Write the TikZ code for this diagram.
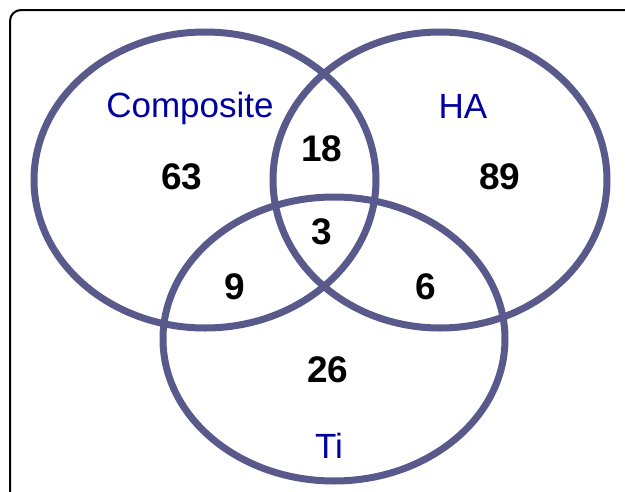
\documentclass[tikz,border=0pt]{standalone}
\usepackage{fontspec}
\setmainfont{Liberation Sans}
\usetikzlibrary{shapes.geometric}

\definecolor{vennring}{RGB}{89,89,140}
\definecolor{setblue}{RGB}{0,0,160}

\begin{document}
\begin{tikzpicture}[x=1pt,y=1pt,
    ring/.style={draw=vennring,line width=7pt,ellipse,inner sep=0pt},
    setname/.style={text=setblue,anchor=base,font=\fontsize{35}{40}\selectfont},
    count/.style={font=\fontsize{37}{42}\selectfont\bfseries,inner sep=0pt}]
  \useasboundingbox (0,0) rectangle (625,-491);
  \clip (0,0) rectangle (625,-491);
  % frame
  \draw[line width=2pt,rounded corners=11pt] (10,-10) rectangle (660,-520);
  % the three sets
  \node[ring,minimum width=342pt,minimum height=296pt] (comp) at (205,-180) {};
  \node[ring,minimum width=334pt,minimum height=296pt] (ha) at (440,-180) {};
  \node[ring,minimum width=342pt,minimum height=284pt] (ti) at (334,-339) {};
  \node[setname] (compname) at (190,-117) {Composite};
  \node[setname] (haname) at (463,-118) {HA};
  \node[setname] (tiname) at (329,-458) {Ti};
  % counts
  \node[count] (onlycomp) at (182,-177) {63};
  \node[count] (compha) at (322,-149) {18};
  \node[count] (onlyha) at (500,-177) {89};
  \node[count] (all) at (322,-232) {3};
  \node[count] (compti) at (235,-287) {9};
  \node[count] (hati) at (426,-287) {6};
  \node[count] (onlyti) at (328,-370) {26};
\end{tikzpicture}
\end{document}
